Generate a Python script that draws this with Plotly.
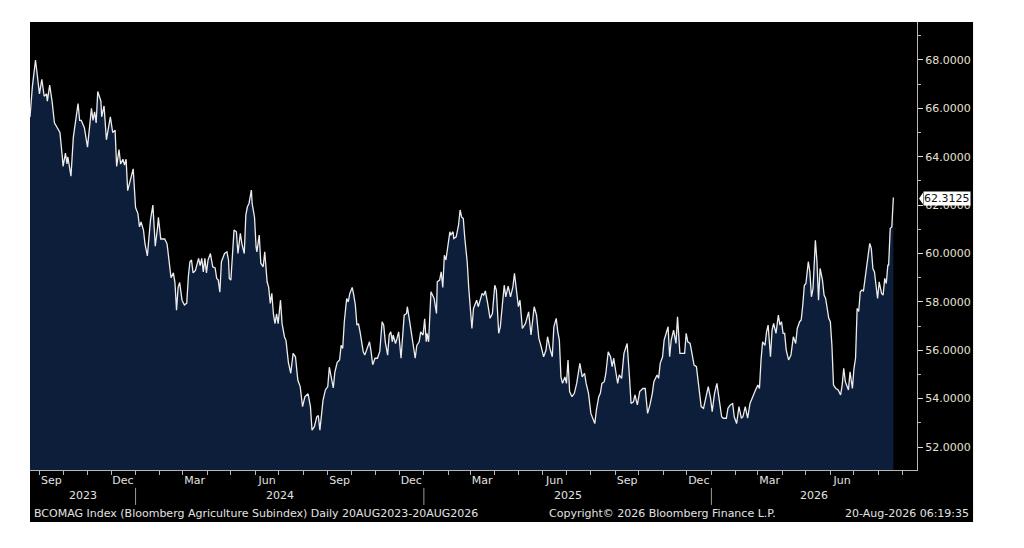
import plotly.graph_objects as go
import pandas as pd

# BCOMAG Index daily closes (20AUG2023 - 20AUG2026)
dates = [
    # 2023
    "2023-08-20", "2023-08-23", "2023-08-27", "2023-08-30", "2023-09-01", "2023-09-04", "2023-09-07",
    "2023-09-10", "2023-09-11", "2023-09-14", "2023-09-17", "2023-09-20", "2023-09-25", "2023-09-27",
    "2023-09-30",
    "2023-10-01", "2023-10-04", "2023-10-06", "2023-10-07", "2023-10-11", "2023-10-14", "2023-10-20",
    "2023-10-22", "2023-10-24", "2023-10-28", "2023-10-30",
    "2023-11-01", "2023-11-06", "2023-11-08", "2023-11-10", "2023-11-12", "2023-11-14", "2023-11-18",
    "2023-11-19", "2023-11-22", "2023-11-25", "2023-11-27", "2023-11-30",
    "2023-12-03", "2023-12-06", "2023-12-08", "2023-12-11", "2023-12-13", "2023-12-16", "2023-12-18",
    "2023-12-20", "2023-12-22", "2023-12-27", "2023-12-29",
    # 2024
    "2024-01-01", "2024-01-04", "2024-01-06", "2024-01-08", "2024-01-11", "2024-01-13", "2024-01-16",
    "2024-01-18", "2024-01-20", "2024-01-23", "2024-01-24", "2024-01-26", "2024-01-29", "2024-01-30",
    "2024-02-02", "2024-02-07", "2024-02-10", "2024-02-15", "2024-02-18", "2024-02-20", "2024-02-22",
    "2024-02-24", "2024-02-26", "2024-02-29",
    "2024-03-03", "2024-03-06", "2024-03-08", "2024-03-10", "2024-03-12", "2024-03-14", "2024-03-17",
    "2024-03-21", "2024-03-23", "2024-03-25", "2024-03-27", "2024-03-29", "2024-03-31",
    "2024-04-02", "2024-04-05", "2024-04-08", "2024-04-11", "2024-04-13", "2024-04-15", "2024-04-17",
    "2024-04-19", "2024-04-23", "2024-04-26", "2024-04-28", "2024-04-29",
    "2024-05-01", "2024-05-05", "2024-05-08", "2024-05-10", "2024-05-13", "2024-05-15", "2024-05-18",
    "2024-05-20", "2024-05-22", "2024-05-24", "2024-05-27", "2024-05-28", "2024-05-31",
    "2024-06-02", "2024-06-03", "2024-06-06", "2024-06-08", "2024-06-11", "2024-06-13", "2024-06-16",
    "2024-06-18", "2024-06-20", "2024-06-22", "2024-06-24", "2024-06-26", "2024-06-28", "2024-06-30",
    "2024-07-03", "2024-07-05", "2024-07-08", "2024-07-10", "2024-07-13", "2024-07-16", "2024-07-19",
    "2024-07-22", "2024-07-25", "2024-07-28", "2024-07-31",
    "2024-08-03", "2024-08-07", "2024-08-10", "2024-08-12", "2024-08-15", "2024-08-18", "2024-08-20",
    "2024-08-22", "2024-08-24", "2024-08-26", "2024-08-29",
    "2024-09-01", "2024-09-03", "2024-09-06", "2024-09-08", "2024-09-10", "2024-09-13", "2024-09-16",
    "2024-09-18", "2024-09-20", "2024-09-22", "2024-09-25", "2024-09-27", "2024-09-29",
    "2024-10-02", "2024-10-04", "2024-10-06", "2024-10-08", "2024-10-10", "2024-10-12", "2024-10-14",
    "2024-10-16", "2024-10-18", "2024-10-21", "2024-10-24", "2024-10-26", "2024-10-28", "2024-10-31",
    "2024-11-03", "2024-11-06", "2024-11-09", "2024-11-11", "2024-11-13", "2024-11-16", "2024-11-18",
    "2024-11-20", "2024-11-22", "2024-11-23", "2024-11-26", "2024-11-28", "2024-11-30",
    "2024-12-03", "2024-12-05", "2024-12-07", "2024-12-10", "2024-12-11", "2024-12-14", "2024-12-16",
    "2024-12-18", "2024-12-21", "2024-12-23", "2024-12-26", "2024-12-28", "2024-12-31",
    # 2025
    "2025-01-02", "2025-01-04", "2025-01-05", "2025-01-07", "2025-01-10", "2025-01-12", "2025-01-14",
    "2025-01-17", "2025-01-18", "2025-01-21", "2025-01-23", "2025-01-25", "2025-01-27", "2025-01-29",
    "2025-02-01", "2025-02-03", "2025-02-04", "2025-02-07", "2025-02-08", "2025-02-11", "2025-02-14",
    "2025-02-16", "2025-02-18", "2025-02-20", "2025-02-22", "2025-02-25", "2025-02-27",
    "2025-03-01", "2025-03-03", "2025-03-05", "2025-03-07", "2025-03-09", "2025-03-11", "2025-03-13",
    "2025-03-16", "2025-03-18", "2025-03-20", "2025-03-23", "2025-03-26", "2025-03-29",
    "2025-04-01", "2025-04-03", "2025-04-06", "2025-04-08", "2025-04-10", "2025-04-13", "2025-04-15",
    "2025-04-18", "2025-04-21", "2025-04-24", "2025-04-26", "2025-04-29",
    "2025-05-01", "2025-05-03", "2025-05-06", "2025-05-10", "2025-05-12", "2025-05-14", "2025-05-17",
    "2025-05-19", "2025-05-21", "2025-05-24", "2025-05-27", "2025-05-30",
    "2025-06-02", "2025-06-05", "2025-06-07", "2025-06-10", "2025-06-13", "2025-06-15", "2025-06-18",
    "2025-06-20", "2025-06-22", "2025-06-24", "2025-06-26", "2025-06-29",
    "2025-07-01", "2025-07-03", "2025-07-05", "2025-07-08", "2025-07-11", "2025-07-14", "2025-07-18",
    "2025-07-21", "2025-07-24", "2025-07-26", "2025-07-29",
    "2025-08-01", "2025-08-03", "2025-08-06", "2025-08-08", "2025-08-11", "2025-08-13", "2025-08-15",
    "2025-08-18", "2025-08-20", "2025-08-23", "2025-08-26", "2025-08-28", "2025-08-30",
    "2025-09-02", "2025-09-04", "2025-09-06", "2025-09-09", "2025-09-12", "2025-09-16", "2025-09-19",
    "2025-09-21", "2025-09-24", "2025-09-26", "2025-09-29",
    "2025-10-02", "2025-10-06", "2025-10-09", "2025-10-12", "2025-10-15", "2025-10-18", "2025-10-20",
    "2025-10-24", "2025-10-26", "2025-10-28", "2025-10-31",
    "2025-11-02", "2025-11-05", "2025-11-07", "2025-11-09", "2025-11-11", "2025-11-14", "2025-11-17",
    "2025-11-19", "2025-11-22", "2025-11-25", "2025-11-28", "2025-11-30",
    "2025-12-02", "2025-12-05", "2025-12-07", "2025-12-10", "2025-12-13", "2025-12-16", "2025-12-19",
    "2025-12-22", "2025-12-25", "2025-12-28", "2025-12-31",
    # 2026
    "2026-01-02", "2026-01-05", "2026-01-08", "2026-01-11", "2026-01-14", "2026-01-16", "2026-01-20",
    "2026-01-22", "2026-01-25", "2026-01-28", "2026-01-30",
    "2026-02-02", "2026-02-05", "2026-02-08", "2026-02-10", "2026-02-13", "2026-02-16", "2026-02-19",
    "2026-02-22", "2026-02-26",
    "2026-03-01", "2026-03-03", "2026-03-05", "2026-03-07", "2026-03-10", "2026-03-12", "2026-03-14",
    "2026-03-17", "2026-03-19", "2026-03-21", "2026-03-24", "2026-03-27", "2026-03-29", "2026-03-31",
    "2026-04-02", "2026-04-04", "2026-04-06", "2026-04-09", "2026-04-12", "2026-04-15", "2026-04-18",
    "2026-04-20", "2026-04-23", "2026-04-25", "2026-04-27", "2026-04-29",
    "2026-05-01", "2026-05-04", "2026-05-06", "2026-05-08", "2026-05-10", "2026-05-13", "2026-05-15",
    "2026-05-17", "2026-05-19", "2026-05-22", "2026-05-24", "2026-05-26", "2026-05-28", "2026-05-30",
    "2026-06-01", "2026-06-03", "2026-06-05", "2026-06-08", "2026-06-11", "2026-06-14", "2026-06-16",
    "2026-06-18", "2026-06-20", "2026-06-22", "2026-06-24", "2026-06-26", "2026-06-29",
    "2026-07-01", "2026-07-03", "2026-07-05", "2026-07-07", "2026-07-09", "2026-07-11", "2026-07-13",
    "2026-07-15", "2026-07-17", "2026-07-18", "2026-07-21", "2026-07-23", "2026-07-25", "2026-07-27",
    "2026-07-29", "2026-07-31",
    "2026-08-02", "2026-08-05", "2026-08-07", "2026-08-09", "2026-08-11", "2026-08-13", "2026-08-14",
    "2026-08-16", "2026-08-18", "2026-08-19", "2026-08-20",
]

values = [
    # 2023
    65.64, 66.9, 68.0, 67.0, 66.6, 67.2, 66.5,
    66.6, 66.3, 66.96, 66.3, 65.4, 65.1, 65.0,
    64.0,
    63.6, 64.15, 63.7, 64.0, 63.2, 64.8, 66.2,
    65.5, 65.5, 65.2, 64.7,
    64.4, 66.0, 65.5, 65.86, 65.4, 66.7, 66.3,
    65.65, 66.1, 64.7, 65.1, 65.65,
    65.0, 65.1, 63.6, 64.3, 63.7, 63.9, 63.65,
    63.9, 62.6, 63.3, 63.5,
    # 2024
    61.9, 61.65, 61.1, 61.3, 60.97, 60.4, 59.9,
    60.55, 61.4, 62.0, 61.4, 60.3, 61.1, 61.5,
    60.6, 60.6, 60.4, 59.0, 59.2, 58.8, 57.66,
    58.6, 58.8, 58.07,
    57.87, 57.95, 59.04, 59.66, 59.73, 59.2, 59.3,
    59.8, 59.5, 59.8, 59.24, 59.8, 59.2,
    59.73, 60.0, 59.45, 59.4, 58.97, 58.9, 58.4,
    59.66, 60.0, 60.07, 59.73, 58.97,
    58.9, 60.97, 60.9, 60.0, 60.83, 60.4, 60.0,
    61.6, 61.93, 62.07, 62.62, 62.07, 61.5,
    60.27, 60.07, 60.76, 59.6, 59.45, 60.07, 58.83,
    58.6, 57.94, 58.35, 57.5, 57.1, 57.5, 57.1,
    58.07, 57.1, 56.56, 56.4, 55.5, 55.05, 55.87,
    55.73, 54.77, 54.5, 53.67,
    54.08, 54.2, 53.67, 52.7, 52.84, 53.25, 53.3,
    52.7, 53.4, 53.94, 54.36,
    54.5, 55.3, 54.7, 54.44, 55.1, 55.5, 55.6,
    56.2, 56.08, 57.18, 58.14, 58.0, 58.35,
    58.6, 58.28, 57.87, 57.04, 57.1, 56.76, 56.35,
    55.94, 55.8, 56.08, 56.35, 55.94, 55.4, 55.67,
    55.67, 55.94, 57.18, 57.04, 56.35, 55.8, 56.63,
    56.76, 56.35, 56.63, 56.28, 56.5, 56.76,
    55.67, 56.5, 57.45, 57.52, 57.8, 57.18, 56.76,
    56.35, 55.67, 56.2, 56.35, 56.76, 56.63,
    # 2025
    57.3, 56.35, 56.7, 56.35, 58.42, 58.28, 58.14,
    57.52, 58.83, 58.9, 59.24, 58.6, 59.93, 59.73,
    60.35, 60.9, 60.76, 60.9, 60.62, 60.69, 61.17,
    61.8, 61.5, 61.45, 60.62, 59.66, 58.56,
    57.6, 56.9, 57.73, 57.94, 58.07, 57.8, 58.0,
    58.35, 58.28, 58.45, 57.94, 57.32, 57.52,
    58.69, 58.49, 56.7, 56.97, 57.8, 58.69, 58.21,
    58.65, 58.21, 58.62, 59.18, 58.21,
    57.8, 58.07, 56.9, 57.11, 57.32, 57.59, 56.63,
    57.25, 57.8, 57.45, 56.49, 56.14,
    55.73, 56.0, 56.56, 56.08, 55.73, 56.97, 57.32,
    56.76, 56.42, 54.9, 54.63, 54.9,
    54.63, 55.6, 54.29, 54.08, 54.22, 54.63, 55.46,
    54.9, 55.05, 54.63, 54.22,
    53.39, 53.25, 52.97, 53.53, 54.08, 54.22, 54.63,
    54.7, 55.04, 55.94, 55.73, 55.32, 55.67,
    55.04, 54.63, 54.98, 54.84, 55.87, 56.28, 54.9,
    53.8, 53.87, 54.15, 53.74,
    54.29, 54.42, 54.42, 53.39, 53.74, 54.22, 54.7,
    54.98, 54.84, 55.46, 55.73,
    56.42, 56.83, 56.97, 55.73, 56.42, 56.83, 56.28,
    57.38, 55.87, 55.87, 55.87, 56.7,
    56.35, 56.28, 55.94, 55.39, 55.32, 54.36, 53.67,
    53.6, 54.08, 54.5, 54.0,
    # 2026
    53.46, 54.22, 54.63, 53.94, 53.25, 53.19, 53.19,
    53.6, 53.74, 53.8, 53.25,
    52.97, 53.67, 53.19, 53.25, 53.67, 53.19, 53.8,
    54.08, 54.36,
    54.56, 54.42, 55.6, 56.35, 56.2, 56.76, 57.04,
    55.73, 56.83, 57.11, 56.7, 57.45, 57.04, 57.18,
    56.7, 56.7, 56.0, 55.6, 55.8, 56.56, 56.28,
    56.9, 57.18, 57.25, 57.87, 58.69,
    58.76, 59.66, 59.24, 58.21, 58.56, 60.55, 59.66,
    58.07, 59.38, 58.9, 58.28, 58.14, 57.73, 57.32,
    57.18, 56.2, 54.56, 54.42, 54.36, 54.15, 54.56,
    55.25, 54.7, 54.49, 54.36, 55.11, 54.42,
    55.25, 55.67, 57.73, 57.6, 58.42, 58.49, 58.45,
    58.97, 59.52, 59.66, 60.42, 60.21, 59.38, 59.24,
    58.56, 58.14,
    58.83, 58.35, 58.28, 58.97, 58.76, 59.52, 59.52,
    61.04, 61.1, 62.0, 62.3125,
]

# x-axis labels (centred in their month) and year captions
month_ticks = ["2023-09-16", "2023-12-16", "2024-03-16", "2024-06-16", "2024-09-16", "2024-12-16",
               "2025-03-16", "2025-06-16", "2025-09-16", "2025-12-16", "2026-03-16", "2026-06-16"]
month_labels = ["Sep", "Dec", "Mar", "Jun", "Sep", "Dec", "Mar", "Jun", "Sep", "Dec", "Mar", "Jun"]
years = ["2023", "2024", "2025", "2026"]

x_start = "2023-08-20"
x_end = "2026-09-19"
y_range = [51.05, 69.57]

title_text = "BCOMAG Index (Bloomberg Agriculture Subindex) Daily 20AUG2023-20AUG2026"
copyright_text = "Copyright\u00a9 2026 Bloomberg Finance L.P."
stamp_text = "20-Aug-2026 06:19:35"

FONT = "DejaVu Sans"
TXT = "#e2e2e2"
AXIS = "#b8b8b8"

fig = go.Figure()
fig.add_trace(go.Scatter(
    x=dates, y=values,
    mode="lines",
    line=dict(color="#ececec", width=1.3),
    fill="tozeroy",
    fillcolor="#0d1e3b",
    hoverinfo="x+y",
))

# black panel behind everything (Bloomberg frame)
shapes = [dict(type="rect", xref="paper", yref="paper", x0=0, x1=1.0632, y0=-0.116, y1=1.0,
               fillcolor="black", line=dict(width=0), layer="below")]

# year dividers on Jan 1 between the month row and year row
for yr in years[1:]:
    shapes.append(dict(type="line", xref="x", yref="paper", x0=f"{yr}-01-01", x1=f"{yr}-01-01",
                       y0=-0.040, y1=-0.078, line=dict(color="#9a9a9a", width=1)))

# little pointer on the last-price tag
last = values[-1]
px = 1.0 / 887
shapes.append(dict(type="path", xref="paper", yref="y",
                   path=f"M {1 + 2 * px},{last - 0.04} L {1 + 6 * px},{last + 0.2} L {1 + 6 * px},{last - 0.28} Z",
                   fillcolor="white", line=dict(width=0), layer="above"))

annotations = []
# year captions centred on their visible span
spans = [(x_start, "2024-01-01"), ("2024-01-01", "2025-01-01"), ("2025-01-01", "2026-01-01"), ("2026-01-01", x_end)]
for yr, (a, b) in zip(years, spans):
    mid = pd.Timestamp(a) + (pd.Timestamp(b) - pd.Timestamp(a)) / 2
    annotations.append(dict(x=mid, y=-0.058, xref="x", yref="paper", text=yr, showarrow=False,
                            font=dict(family=FONT, size=11, color=TXT), yanchor="middle"))

annotations += [
    dict(x=0.002, y=-0.098, xref="paper", yref="paper", text=title_text, showarrow=False,
         xanchor="left", yanchor="middle", font=dict(family=FONT, size=11, color=TXT)),
    dict(x=0.583, y=-0.098, xref="paper", yref="paper", text=copyright_text, showarrow=False,
         xanchor="left", yanchor="middle", font=dict(family=FONT, size=11, color=TXT)),
    dict(x=1.0608, y=-0.098, xref="paper", yref="paper", text=stamp_text, showarrow=False,
         xanchor="right", yanchor="middle", font=dict(family=FONT, size=11, color=TXT)),
    dict(x=1 + 6 * px, y=last - 0.04, xref="paper", yref="y", text=f"{last:.4f}", showarrow=False,
         xanchor="left", yanchor="middle", bgcolor="white", borderpad=0,
         font=dict(family=FONT, size=11, color="#111111")),
]

# page body has an 8px default margin, so the figure is drawn 8px in from the corner
fig.update_layout(
    width=1016, height=540,
    margin=dict(l=22, r=107, t=14, b=78),
    paper_bgcolor="white",
    plot_bgcolor="black",
    showlegend=False,
    shapes=shapes,
    annotations=annotations,
    xaxis=dict(
        type="date",
        range=[x_start, x_end],
        tickmode="array", tickvals=month_ticks, ticktext=month_labels,
        ticks="", showgrid=False, zeroline=False,
        showline=True, linecolor=AXIS, linewidth=1,
        tickfont=dict(family=FONT, size=11, color=TXT),
        minor=dict(ticks="outside", dtick="M1", tick0="2023-09-01", ticklen=4,
                   tickcolor=AXIS, showgrid=False),
    ),
    yaxis=dict(
        side="right",
        range=y_range,
        tick0=52, dtick=2, tickformat=".4f",
        ticks="outside", ticklen=5, tickcolor="#dddddd",
        showgrid=False, zeroline=False,
        showline=True, linecolor=AXIS, linewidth=1,
        tickfont=dict(family=FONT, size=11, color="#e6e0d2"),
        minor=dict(ticks="outside", dtick=1, ticklen=3, tickcolor=AXIS, showgrid=False),
    ),
)

fig.write_html("out.html")
